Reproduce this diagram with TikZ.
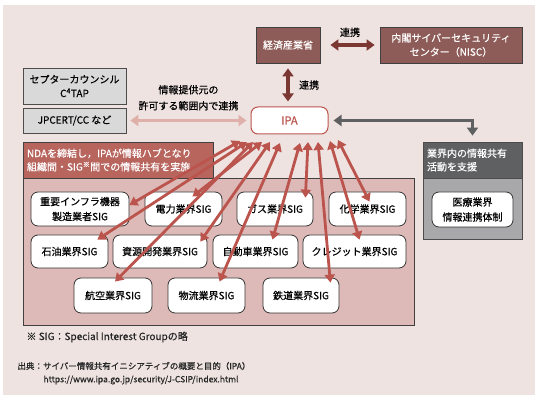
\documentclass[tikz,border=0pt]{standalone}
\usepackage{fontspec}
\setmainfont{Noto Sans CJK JP}[FakeBold=0.5]
\usetikzlibrary{arrows.meta}

\definecolor{bgpink}{HTML}{EEE3E0}
\definecolor{hubred}{HTML}{B8655E}
\definecolor{regionpink}{HTML}{DDBAB7}
\definecolor{fanred}{HTML}{BB544D}
\definecolor{govbrown}{HTML}{8E5C58}
\definecolor{linkbrown}{HTML}{7B3832}
\definecolor{softpink}{HTML}{DFAFA9}
\definecolor{darkgrey}{HTML}{5F6062}
\definecolor{midgrey}{HTML}{A8A8AA}
\definecolor{lightgrey}{HTML}{D9D9DA}

\begin{document}
\begin{tikzpicture}[x=1pt,y=-1pt,
    font=\fontsize{10}{14}\selectfont,
    sigbox/.style={draw=black!80,line width=0.8pt,fill=white,rounded corners=7pt,align=center,inner sep=2pt},
    govbox/.style={draw=black!75,line width=0.8pt,fill=govbrown,text=white,align=center,inner sep=2pt},
    greybox/.style={draw=black!70,line width=0.8pt,fill=lightgrey,align=center,inner sep=2pt},
    fan/.style={fanred,line width=2.8pt,{Triangle[width=10pt,length=8pt]}-{Triangle[width=10pt,length=8pt]}},
    bigarrow/.style={line width=3.6pt,{Triangle[width=11pt,length=8pt]}-{Triangle[width=11pt,length=8pt]}}]
        \useasboundingbox (0,0) rectangle (539,401);
        \fill[bgpink] (3,5) rectangle (535,395);

        % upper row
        \node (meti) at (288,45) [govbox,minimum width=64pt,minimum height=36pt] {経済産業省};
        \node (nisc) at (451,45) [govbox,minimum width=142pt,minimum height=36pt] {内閣サイバーセキュリティ\\センター（NISC）};
        \node (ipa) at (289.5,120.5) [draw=fanred,line width=1pt,fill=white,rounded corners=7pt,text=fanred,minimum width=77pt,minimum height=27pt,font=\fontsize{11}{13}\selectfont] {IPA};

        \node (ceptoar) at (74.5,86) [greybox,minimum width=103pt,minimum height=36pt] {セプターカウンシル\\C\textsuperscript{4}TAP};
        \node (jpcert) at (74.5,120.5) [greybox,minimum width=103pt,minimum height=25pt] {JPCERT/CC など};

        % SIG region
        \fill[regionpink,draw=black!75,line width=0.8pt] (23,178) rectangle (414,325);
        \node (hub) at (118,160) [fill=hubred,draw=black!75,line width=0.8pt,text=white,minimum width=190pt,minimum height=36pt,align=left,text width=182pt,font=\fontsize{10}{13.5}\selectfont] {NDAを締結し，IPAが情報ハブとなり\\組織間・SIG\textsuperscript{※}間での情報共有を実施};

        \node (juyo) at (80,209) [sigbox,minimum width=98pt,minimum height=34pt,font=\fontsize{10}{15}\selectfont] {重要インフラ機器\\製造業者SIG};
        \node (denryoku) at (183.5,209) [sigbox,minimum width=77pt,minimum height=34pt] {電力業界SIG};
        \node (gas) at (275,209) [sigbox,minimum width=76pt,minimum height=34pt] {ガス業界SIG};
        \node (kagaku) at (367.5,209) [sigbox,minimum width=77pt,minimum height=34pt] {化学業界SIG};

        \node (sekiyu) at (69.5,251.5) [sigbox,minimum width=77pt,minimum height=33pt] {石油業界SIG};
        \node (shigen) at (160,251.5) [sigbox,minimum width=94pt,minimum height=33pt] {資源開発業界SIG};
        \node (jidosha) at (255.5,251.5) [sigbox,minimum width=85pt,minimum height=33pt] {自動車業界SIG};
        \node (credit) at (354.5,251.5) [sigbox,minimum width=103pt,minimum height=33pt] {クレジット業界SIG};

        \node (koku) at (113,295.5) [sigbox,minimum width=78pt,minimum height=35pt] {航空業界SIG};
        \node (butsuryu) at (206.5,295.5) [sigbox,minimum width=77pt,minimum height=35pt] {物流業界SIG};
        \node (tetsudo) at (301,295.5) [sigbox,minimum width=76pt,minimum height=35pt] {鉄道業界SIG};

        % industry support
        \fill[midgrey,draw=black!70,line width=0.8pt] (423,178) rectangle (522,239);
        \node (support) at (472.5,160) [fill=darkgrey,draw=black!70,line width=0.8pt,text=white,minimum width=99pt,minimum height=36pt,align=left,text width=91pt,font=\fontsize{10}{13.5}\selectfont] {業界内の情報共有\\活動を支援};
        \node (iryo) at (472.5,209.5) [sigbox,minimum width=81pt,minimum height=35pt,font=\fontsize{10}{15}\selectfont] {医療業界\\情報連携体制};

        % links
        \draw[bigarrow,linkbrown,shorten <=10pt,shorten >=5pt] (meti) -- node[above=3pt,black,font=\fontsize{10}{12}\selectfont]{連携} (nisc);
        \draw[bigarrow,linkbrown,shorten <=5pt,shorten >=5pt] (meti.south) -- node[right=6pt,black,font=\fontsize{10}{12}\selectfont]{連携} (meti.south |- ipa.north);
        \draw[bigarrow,softpink,shorten <=4pt,shorten >=4pt] (jpcert.east) -- node[above=5pt,black,align=center,font=\fontsize{10}{16}\selectfont]{情報提供元の\\許可する範囲内で連携} (ipa.west);
        \draw[bigarrow,darkgrey,shorten <=5pt,shorten >=6pt] (ipa.east) -| (support.north);

        % fan from IPA
        \coordinate (f1) at (240,141);
        \coordinate (f2) at (247,142);
        \coordinate (f3) at (253,142);
        \coordinate (f4) at (262,142);
        \coordinate (f5) at (270,142);
        \coordinate (f6) at (280,143);
        \coordinate (f7) at (300,143);
        \coordinate (f8) at (308,142);
        \coordinate (f9) at (318,142);
        \coordinate (f10) at (330,141);
        \coordinate (f11) at (338,140);

        \draw[fan] (f1) -- ([yshift=4pt]juyo.east);
        \draw[fan] (f2) -- ([xshift=-11pt,yshift=-5pt]sekiyu.north east);
        \draw[fan] (f3) -- ([xshift=2pt,yshift=-4pt]koku.north);
        \draw[fan] (f4) -- ([xshift=9pt,yshift=-5pt]denryoku.north);
        \draw[fan] (f5) -- ([xshift=-7pt,yshift=-7pt]shigen.north east);
        \draw[fan] (f6) -- ([xshift=13pt,yshift=-4pt]butsuryu.north);
        \draw[fan] (f7) -- ([xshift=17pt,yshift=-5pt]jidosha.north);
        \draw[fan] (f8) -- ([xshift=-8pt,yshift=-6pt]gas.north east);
        \draw[fan] (f9) -- ([xshift=-9pt,yshift=-5pt]tetsudo.north east);
        \draw[fan] (f10) -- ([xshift=5pt,yshift=-5pt]credit.north);
        \draw[fan] (f11) -- ([xshift=2pt,yshift=-10pt]kagaku.north);

        % notes
        \node (note) at (23,337) [anchor=west,font=\fontsize{10}{12}\selectfont,text=black!85] {※ SIG：Special Interest Groupの略};
        \node (source) at (14,366) [anchor=west,font=\fontsize{8.5}{10}\selectfont,text=black!85] {出典：サイバー情報共有イニシアティブの概要と目的（IPA）};
        \node (url) at (40,380) [anchor=west,font=\fontsize{8.5}{10}\selectfont,text=black!85] {https://www.ipa.go.jp/security/J-CSIP/index.html};
    \end{tikzpicture}
\end{document}
